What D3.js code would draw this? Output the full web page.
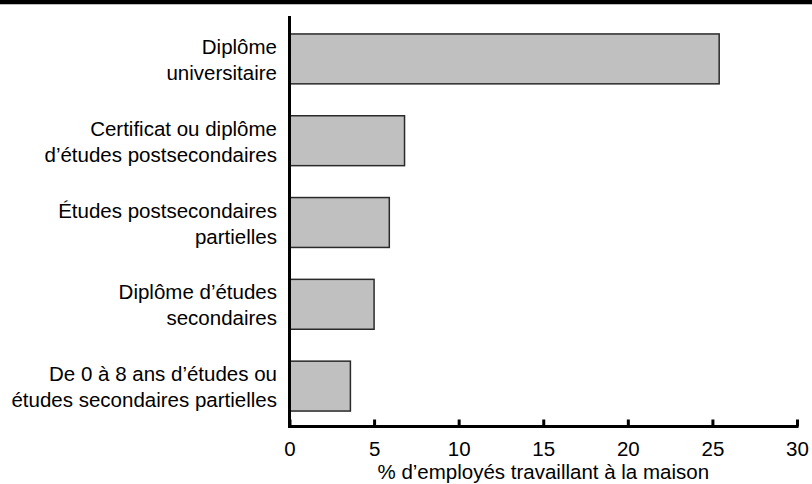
<!DOCTYPE html>
<html>
<head>
<meta charset="utf-8">
<script src="https://cdn.jsdelivr.net/npm/d3@7"></script>
<style>
  body { margin: 0; background: #fff; }
  svg text { font-family: "Liberation Sans", Arial, sans-serif; fill: #000; }
</style>
</head>
<body>
<script>
const width = 812;
const height = 484;

// categories, each split in its two printed lines
const categories = [
    ["Diplôme", "universitaire"],
    ["Certificat ou diplôme", "d\u2019études postsecondaires"],
    ["Études postsecondaires", "partielles"],
    ["Diplôme d\u2019études", "secondaires"],
    ["De 0 à 8 ans d\u2019études ou", "études secondaires partielles"]
];
const values = [25.4, 6.8, 5.9, 5.0, 3.6];
const tickValues = [0, 5, 10, 15, 20, 25, 30];
const xTitle = "% d\u2019employés travaillant à la maison";

const svg = d3.select("body")
    .append("svg")
    .attr("width", width)
    .attr("height", height);

// black band across the top
svg.append("rect")
    .attr("x", 0).attr("y", 0)
    .attr("width", width).attr("height", 4)
    .attr("fill", "#000");
svg.append("line")
    .attr("x1", 0).attr("x2", width)
    .attr("y1", 4.5).attr("y2", 4.5)
    .attr("stroke", "#bbb");

const xScale = d3.scaleLinear()
    .domain([0, 30])
    .range([289.5, 797]);

const yScale = d3.scaleBand()
    .domain(d3.range(categories.length))
    .range([18, 427])
    .paddingInner(0.39)
    .paddingOuter(0.195);

// bars
svg.selectAll("rect.bar")
    .data(values)
    .enter()
    .append("rect")
    .attr("class", "bar")
    .attr("x", xScale(0))
    .attr("y", (d, i) => yScale(i))
    .attr("width", d => xScale(d) - xScale(0))
    .attr("height", yScale.bandwidth())
    .attr("fill", "#c0c0c0")
    .attr("stroke", "#2a2a2a")
    .attr("stroke-width", 1.5);

// category labels
const labels = svg.selectAll("text.cat")
    .data(categories)
    .enter()
    .append("text")
    .attr("class", "cat")
    .attr("text-anchor", "end")
    .attr("font-size", 20.5);

labels.selectAll("tspan")
    .data((d, i) => d.map((line, j) => ({ line, j, i })))
    .enter()
    .append("tspan")
    .attr("x", 277)
    .attr("y", d => yScale(d.i) + yScale.bandwidth() / 2 + (d.j === 0 ? -5 : 21))
    .text(d => d.line);

// x axis
const xAxis = d3.axisTop(xScale)
    .tickValues(tickValues)
    .tickSize(7)
    .tickFormat(d3.format("d"));

const gx = svg.append("g")
    .attr("transform", "translate(0,426.5)")
    .call(xAxis);

gx.select(".domain").remove();
gx.selectAll(".tick line")
    .attr("stroke", "#000")
    .attr("stroke-width", 3);
gx.selectAll(".tick text")
    .attr("y", 29.5)
    .attr("dy", 0)
    .attr("font-size", 20.5)
    .attr("font-family", "Liberation Sans, Arial, sans-serif");

svg.append("line")
    .attr("x1", xScale(0) - 1.5).attr("x2", xScale(30) + 1.5)
    .attr("y1", 426.5).attr("y2", 426.5)
    .attr("stroke", "#000")
    .attr("stroke-width", 3);

// y axis line
svg.append("line")
    .attr("x1", xScale(0)).attr("x2", xScale(0))
    .attr("y1", 16).attr("y2", 428)
    .attr("stroke", "#000")
    .attr("stroke-width", 3);

svg.append("text")
    .attr("x", (xScale(0) + xScale(30)) / 2)
    .attr("y", 479)
    .attr("text-anchor", "middle")
    .attr("font-size", 20.5)
    .text(xTitle);
</script>
</body>
</html>
